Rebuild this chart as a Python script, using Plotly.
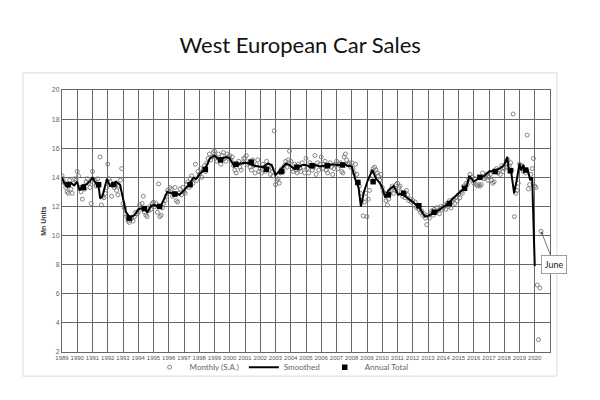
import plotly.graph_objects as go

# monthly seasonally adjusted sales (Mn units), one row per year from 1989
monthly = [
    14.1, 13.9, 13.6, 13.3, 13.0, 12.9, 13.8, 13.2, 12.9, 13.6, 13.9, 13.8,  # 1989
    14.4, 14.1, 13.3, 13.0, 12.5, 13.4, 13.2, 13.7, 13.9, 13.6, 13.3, 12.2,  # 1990
    14.4, 13.6, 13.8, 13.4, 13.9, 13.5, 15.4, 12.1, 12.7, 12.6, 12.9, 13.3,  # 1991
    14.9, 13.9, 13.7, 12.7, 13.5, 13.3, 13.6, 13.1, 12.8, 13.4, 13.8, 14.6,  # 1992
    12.2, 11.9, 11.5, 11.3, 11.0, 10.9, 11.1, 11.2, 11.0, 11.3, 11.6, 11.5,  # 1993
    11.6, 12.1, 11.9, 12.2, 12.7, 11.6, 11.4, 11.3, 11.7, 12.0, 11.8, 12.2,  # 1994
    12.3, 12.0, 12.2, 11.6, 13.55, 11.3, 11.4, 11.9, 12.2, 12.4, 12.7, 13.1,  # 1995
    13.0, 13.3, 13.2, 12.7, 12.9, 13.3, 12.4, 12.3, 12.9, 13.2, 12.8, 13.3,  # 1996
    13.0, 12.9, 13.5, 13.7, 13.3, 13.9, 14.1, 13.6, 13.9, 14.9, 13.8, 14.4,  # 1997
    14.2, 14.6, 14.0, 14.5, 14.8, 14.4, 15.0, 15.3, 15.6, 15.2, 15.4, 15.7,  # 1998
    15.8, 15.4, 15.1, 15.6, 15.2, 14.9, 15.5, 15.7, 15.3, 15.1, 15.6, 15.4,  # 1999
    15.5, 15.2, 15.4, 14.8, 14.5, 14.3, 14.9, 15.1, 14.7, 14.5, 15.0, 15.3,  # 2000
    15.3, 15.5, 14.9, 15.0, 14.7, 14.5, 15.2, 14.8, 14.3, 14.9, 15.2, 14.4,  # 2001
    14.6, 14.3, 14.9, 14.7, 14.4, 15.1, 14.8, 14.5, 14.2, 14.6, 14.1, 17.2,  # 2002
    13.5, 13.8, 13.9, 13.6, 14.3, 14.6, 14.4, 14.8, 15.1, 14.7, 15.2, 15.8,  # 2003
    15.1, 14.6, 14.4, 14.9, 14.5, 14.3, 14.9, 14.6, 14.4, 15.0, 14.7, 14.3,  # 2004
    15.3, 14.6, 14.3, 15.0, 14.8, 14.5, 14.7, 15.5, 14.2, 15.0, 14.5, 14.9,  # 2005
    15.4, 14.6, 14.9, 15.1, 14.5, 14.3, 14.8, 15.0, 14.7, 14.2, 14.6, 14.9,  # 2006
    15.1, 14.6, 14.9, 15.0, 14.4, 14.3, 15.4, 15.6, 15.2, 14.9, 15.0, 14.7,  # 2007
    15.0, 14.6, 14.3, 14.9, 14.2, 13.6, 13.4, 12.9, 12.4, 11.35, 12.3, 12.9,  # 2008
    11.3, 12.5, 13.1, 13.9, 14.4, 14.6, 14.7, 14.5, 14.3, 14.1, 13.8, 14.2,  # 2009
    13.3, 13.0, 12.9, 12.4, 12.1, 12.5, 12.9, 13.2, 13.4, 12.9, 13.1, 13.5,  # 2010
    13.6, 13.3, 13.4, 13.0, 12.7, 12.9, 12.6, 13.1, 12.8, 12.4, 12.5, 12.3,  # 2011
    12.4, 12.1, 12.3, 11.9, 12.0, 11.8, 11.6, 11.7, 11.4, 11.5, 11.2, 10.75,  # 2012
    11.4, 11.2, 11.5, 11.7, 11.4, 11.8, 11.6, 11.9, 11.7, 11.5, 12.0, 11.8,  # 2013
    11.9, 12.1, 11.8, 12.2, 12.0, 12.4, 11.9, 12.3, 12.5, 12.2, 12.6, 12.4,  # 2014
    12.8, 12.6, 13.0, 12.9, 13.4, 13.2, 13.6, 13.5, 13.9, 14.2, 13.8, 14.0,  # 2015
    13.6, 13.9, 13.5, 13.4, 13.5, 13.4, 13.5, 14.3, 13.9, 14.0, 14.2, 13.8,  # 2016
    14.0, 14.2, 13.8, 13.6, 13.7, 14.4, 14.6, 14.3, 14.5, 14.2, 14.8, 14.4,  # 2017
    14.6, 14.9, 14.7, 15.2, 14.8, 15.0, 14.5, 18.35, 11.3, 12.9, 13.1, 13.6,  # 2018
    14.9, 14.6, 14.8, 14.4, 14.5, 14.3, 16.9, 13.2, 13.5, 14.2, 14.6, 15.3,  # 2019
    13.4, 13.3, 6.6, 2.85, 6.4, 10.3,                                        # 2020
]
first_year = 1989

# smoothed trend (decimal year, Mn units)
smooth_x = [1989.0, 1989.15, 1989.35, 1989.6, 1989.8, 1990.0, 1990.15, 1990.35, 1990.6, 1990.85,
            1991.0, 1991.2, 1991.38, 1991.5, 1991.65, 1991.95, 1992.15, 1992.35, 1992.55, 1992.8,
            1993.0, 1993.2, 1993.45, 1993.75, 1994.0, 1994.3, 1994.6, 1994.85, 1995.1, 1995.3,
            1995.5, 1995.9, 1996.2, 1996.45, 1996.7, 1997.0, 1997.4, 1997.6, 1997.8, 1998.0,
            1998.4, 1998.7, 1999.0, 1999.2, 1999.5, 1999.8, 2000.0, 2000.3, 2000.7, 2001.0,
            2001.3, 2001.6, 2001.9, 2002.2, 2002.5, 2002.75, 2003.0, 2003.2, 2003.5, 2003.7,
            2003.9, 2004.2, 2004.5, 2004.8, 2005.0, 2005.3, 2005.6, 2005.9, 2006.2, 2006.5,
            2006.8, 2007.0, 2007.2, 2007.5, 2007.7, 2008.0, 2008.25, 2008.45, 2008.6, 2008.8,
            2009.05, 2009.35, 2009.6, 2009.85, 2010.0, 2010.2, 2010.4, 2010.75, 2011.05, 2011.3,
            2011.5, 2012.0, 2012.45, 2012.8, 2013.0, 2013.55, 2014.2, 2014.9, 2015.3, 2015.55,
            2015.7, 2016.0, 2016.4, 2016.7, 2017.0, 2017.3, 2017.7, 2018.0, 2018.2, 2018.3,
            2018.45, 2018.65, 2018.85, 2019.0, 2019.1, 2019.25, 2019.35, 2019.55, 2019.7, 2019.83,
            2020.0]
smooth_y = [14.0, 13.6, 13.35, 13.6, 13.45, 13.7, 13.1, 13.45, 13.5, 13.75,
            14.0, 13.6, 13.55, 12.55, 12.7, 13.9, 13.4, 13.55, 13.7, 13.5,
            12.45, 11.6, 11.25, 11.4, 11.8, 11.9, 11.6, 12.05, 12.1, 11.95,
            12.05, 13.0, 12.9, 12.95, 12.8, 13.1, 13.6, 13.95, 13.9, 14.2,
            14.6, 15.3, 15.5, 15.3, 15.3, 15.4, 15.3, 14.75, 14.95, 15.0,
            14.95, 14.8, 14.75, 14.7, 14.95, 14.85, 14.15, 14.4, 14.75, 14.95,
            14.85, 14.6, 14.7, 14.85, 14.85, 14.7, 14.85, 14.75, 14.8, 14.85,
            14.9, 14.85, 14.85, 14.95, 14.8, 14.75, 13.8, 13.3, 12.0, 13.0,
            13.8, 14.5, 13.9, 13.6, 13.3, 12.6, 13.1, 13.4, 12.8, 12.9,
            12.7, 12.3, 11.9, 11.3, 11.35, 11.65, 12.1, 12.8, 13.2, 13.4,
            14.1, 13.7, 14.0, 14.1, 14.4, 14.45, 14.6, 14.85, 15.4, 14.5,
            14.4, 12.9, 14.0, 14.95, 14.5, 14.85, 14.5, 14.5, 13.8, 14.0,
            7.9]

# annual totals
years = list(range(1989, 2020))
annual = [13.5, 13.3, 13.5, 13.5, 11.2, 11.85, 12.0, 12.85, 13.5, 14.55,
          15.2, 14.9, 15.05, 14.55, 14.4, 14.7, 14.8, 14.8, 14.85, 13.65,
          13.7, 12.8, 12.9, 12.05, 11.6, 12.2, 13.25, 14.0, 14.4, 14.45,
          14.5]

tick_years = list(range(1989, 2021))

month_x = [first_year + i / 12 for i in range(len(monthly))]
annual_x = [y + 0.4 for y in years]

fig = go.Figure()

fig.add_trace(go.Scatter(
    x=month_x, y=monthly, mode='markers', name='Monthly (S.A.)',
    marker=dict(symbol='circle-open', size=4, color='#777777', line=dict(width=0.9))))

fig.add_trace(go.Scatter(
    x=smooth_x, y=smooth_y, mode='lines', name='Smoothed',
    line=dict(color='black', width=2)))

fig.add_trace(go.Scatter(
    x=annual_x, y=annual, mode='markers', name='Annual Total',
    marker=dict(symbol='square', size=5.5, color='black')))

fig.add_annotation(
    x=month_x[-1], y=monthly[-1], text='June', showarrow=True,
    ax=13, ay=33, arrowhead=2, arrowsize=0.8, arrowwidth=0.8, arrowcolor='#555',
    bgcolor='white', bordercolor='#888', borderwidth=0.8, borderpad=3,
    font=dict(size=9, color='#222', family='Lato'))

# light frame round the chart image
fig.add_shape(type='rect', xref='paper', yref='paper',
              x0=-0.08, x1=1.014, y0=-0.092, y1=1.065,
              line=dict(color='#e2e2e2', width=1.2), layer='below')

# the page adds an 8px body margin, so margins are set 8px short on the left/top
fig.update_layout(
    width=600, height=400,
    paper_bgcolor='white', plot_bgcolor='white',
    margin=dict(l=54, r=58, t=82, b=56, autoexpand=False),
    title=dict(text='West European Car Sales', x=0.487, xanchor='center', y=0.907, yanchor='middle',
               font=dict(family='Lato', size=22, color='#111')),
    font=dict(family='Lato', color='#555'),
    showlegend=True,
    legend=dict(orientation='h', x=0.45, xanchor='center', yref='container', y=0.102, yanchor='middle',
                font=dict(size=8, color='#666'), itemwidth=30, tracegroupgap=0,
                bgcolor='rgba(0,0,0,0)'),
    xaxis=dict(range=[1989, 2021], tickvals=tick_years, ticktext=[str(y) for y in tick_years],
               tickangle=0, tickfont=dict(size=6, color='#555', family='Liberation Sans'),
               showgrid=True, gridcolor='#666', gridwidth=1, automargin=False,
               showline=True, linecolor='#666', mirror=True, zeroline=False,
               ticks='', ticklen=0),
    yaxis=dict(range=[2, 20], dtick=2, tick0=2, automargin=False,
               tickfont=dict(size=7, color='#666', family='Liberation Sans'),
               showgrid=True, gridcolor='#666', gridwidth=1,
               showline=True, linecolor='#666', mirror=True, zeroline=False,
               title=dict(text='<b>Mn Units</b>', font=dict(size=7, color='#333', family='Liberation Sans'),
                          standoff=4)),
)

fig.write_html('out.html')
